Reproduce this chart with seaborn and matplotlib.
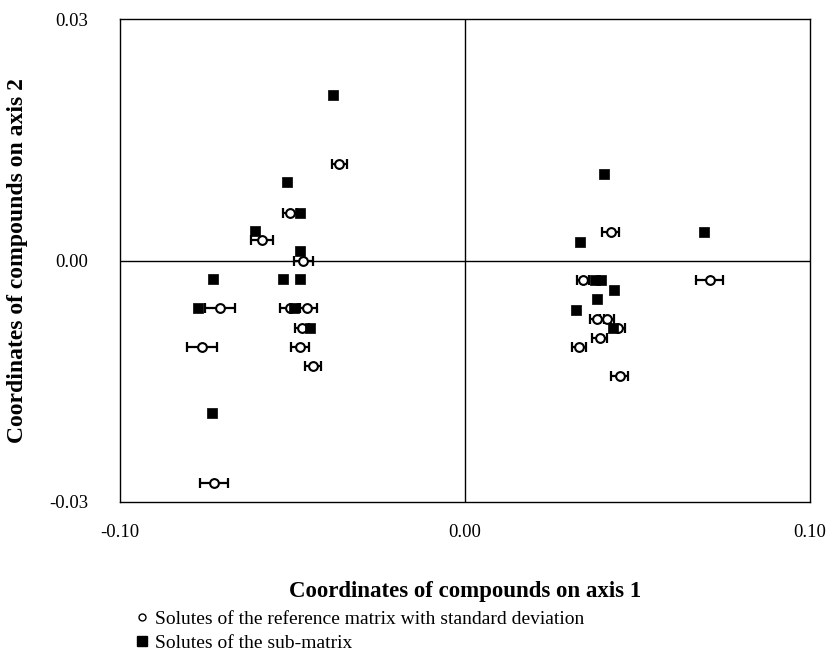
import matplotlib
matplotlib.use("Agg")
import matplotlib.pyplot as plt
from matplotlib.lines import Line2D
import seaborn as sns
import pandas as pd

# Solutes of the sub-matrix (filled squares)
sub_x = [-0.0383, -0.0515, -0.0478, -0.0608, -0.0478, -0.0730, -0.0528, -0.0478,
         -0.0773, -0.0496, -0.0449, -0.0733, 0.0404, 0.0694, 0.0332, 0.0378,
         0.0394, 0.0431, 0.0382, 0.0321, 0.0430]
sub_y = [0.0205, 0.0097, 0.0059, 0.0037, 0.0012, -0.0023, -0.0023, -0.0023,
         -0.0059, -0.0059, -0.0084, -0.0190, 0.0108, 0.0036, 0.0023, -0.0024,
         -0.0024, -0.0037, -0.0048, -0.0061, -0.0084]

# Solutes of the reference matrix (open circles) with standard deviation on axis 1
ref_x = [-0.0364, -0.0507, -0.0588, -0.0469, -0.0710, -0.0507, -0.0457, -0.0472,
         -0.0763, -0.0478, -0.0440, -0.0727, 0.0422, 0.0341, 0.0710, 0.0382,
         0.0411, 0.0444, 0.0390, 0.0330, 0.0448]
ref_y = [0.0120, 0.0059, 0.0025, 0.0000, -0.0059, -0.0059, -0.0059, -0.0084,
         -0.0107, -0.0107, -0.0131, -0.0276, 0.0035, -0.0024, -0.0024, -0.0073,
         -0.0073, -0.0084, -0.0096, -0.0108, -0.0144]
ref_sd = [0.0021, 0.0020, 0.0032, 0.0027, 0.0043, 0.0028, 0.0028, 0.0020,
          0.0043, 0.0026, 0.0024, 0.0041, 0.0024, 0.0017, 0.0039, 0.0020,
          0.0020, 0.0020, 0.0023, 0.0020, 0.0024]

x_ticks = [-0.10, 0.00, 0.10]
y_ticks = [-0.03, 0.00, 0.03]
x_label = "Coordinates of compounds on axis 1"
y_label = "Coordinates of compounds on axis 2"
legend_labels = ["Solutes of the reference matrix with standard deviation",
                 "Solutes of the sub-matrix"]

sns.set_theme(style="white")
plt.rcParams['font.family'] = ['Liberation Serif', 'DejaVu Serif']
plt.rcParams['text.color'] = 'black'
plt.rcParams['axes.labelcolor'] = 'black'

df_sub = pd.DataFrame({"x": sub_x, "y": sub_y})
df_ref = pd.DataFrame({"x": ref_x, "y": ref_y, "sd": ref_sd})

fig = plt.figure(figsize=(8.28, 6.53), dpi=100)
ax = fig.add_axes([120 / 828, 1 - 502 / 653, 690 / 828, 483 / 653])

ax.axhline(0, color="black", lw=1.0, zorder=1)
ax.axvline(0, color="black", lw=1.0, zorder=1)

ax.errorbar(df_ref["x"], df_ref["y"], xerr=df_ref["sd"], fmt="none",
            ecolor="black", elinewidth=1.6, capsize=3.5, capthick=1.6, zorder=2)
sns.scatterplot(data=df_ref, x="x", y="y", ax=ax, marker="o", s=40,
                facecolor="white", edgecolor="black", linewidth=1.5, zorder=3,
                legend=False)
sns.scatterplot(data=df_sub, x="x", y="y", ax=ax, marker="s", s=44,
                color="black", edgecolor="black", linewidth=0.5, zorder=4,
                legend=False)

ax.set_xlim(-0.10, 0.10)
ax.set_ylim(-0.03, 0.03)
ax.set_xticks(x_ticks)
ax.set_yticks(y_ticks)
ax.set_xticklabels([f"{v:.2f}" for v in x_ticks])
ax.set_yticklabels([f"{v:.2f}" for v in y_ticks])
ax.tick_params(axis="both", direction="out", length=3, width=0.8, colors="black",
               labelsize=13.5)
ax.tick_params(axis="x", pad=13)
ax.tick_params(axis="y", pad=20)
for s in ax.spines.values():
    s.set_color("black")
    s.set_linewidth(1.0)

ax.set_xlabel(x_label, fontsize=16.5, fontweight="bold", labelpad=29, color="black")
ax.set_ylabel(y_label, fontsize=17, fontweight="bold", labelpad=15, color="black")

handles = [
    Line2D([], [], marker="o", linestyle="none", markersize=5,
           markerfacecolor="white", markeredgecolor="black", markeredgewidth=1.0),
    Line2D([], [], marker="s", linestyle="none", markersize=7.5,
           markerfacecolor="black", markeredgecolor="black"),
]
leg = fig.legend(handles, legend_labels, loc="center left",
                 bbox_to_anchor=(136 / 828, 1 - 631 / 653), frameon=False,
                 fontsize=14, handlelength=0.6, handletextpad=0.4,
                 labelspacing=0.3, borderpad=0, borderaxespad=0)
for t in leg.get_texts():
    t.set_color("black")

fig.savefig("out.png", dpi=100)
